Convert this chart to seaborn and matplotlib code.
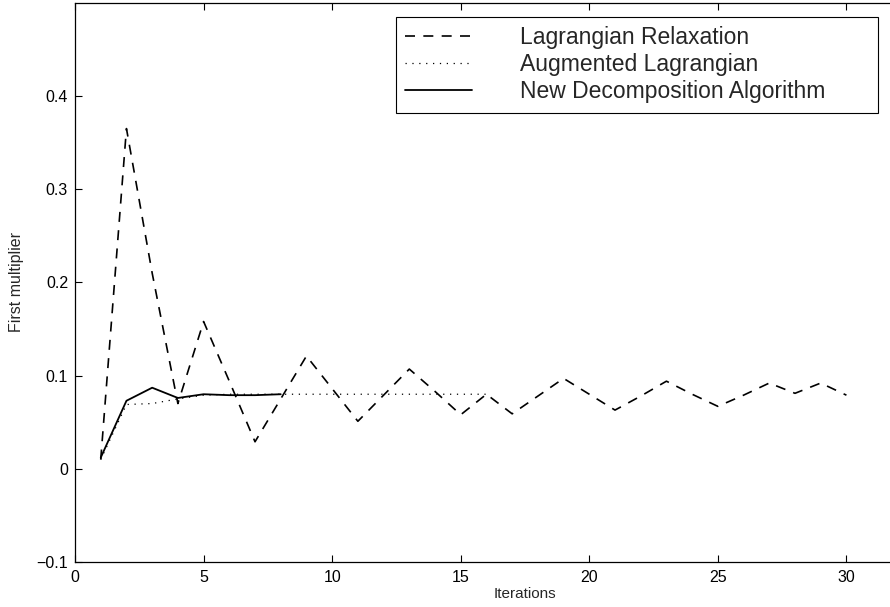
import matplotlib
matplotlib.use("Agg")
import matplotlib.pyplot as plt
import pandas as pd
import numpy as np
import seaborn as sns
from matplotlib.ticker import FuncFormatter

# values
iters_lr = list(range(1, 31))
lagrangian_relax = [0.010, 0.365, 0.210, 0.070, 0.158, 0.094, 0.029, 0.075, 0.121, 0.086,
                    0.051, 0.079, 0.107, 0.083, 0.058, 0.080, 0.059, 0.078, 0.097, 0.080,
                    0.063, 0.078, 0.094, 0.080, 0.067, 0.079, 0.092, 0.081, 0.092, 0.079]
iters_al = list(range(1, 17))
augmented = [0.010, 0.069, 0.070, 0.075, 0.079, 0.080, 0.080, 0.080, 0.080, 0.080,
             0.080, 0.080, 0.080, 0.080, 0.080, 0.080]
iters_nd = list(range(1, 9))
new_decomp = [0.012, 0.073, 0.087, 0.076, 0.080, 0.079, 0.079, 0.080]

labels = ["Lagrangian Relaxation", "Augmented Lagrangian", "New Decomposition Algorithm"]

sns.set_style("ticks", {"xtick.direction": "in", "ytick.direction": "in"})
plt.rcParams['font.family'] = ['Liberation Sans', 'DejaVu Sans']

fig = plt.figure(figsize=(8.9, 6.07), dpi=100)
# the right side of the original plot is cut off by the image edge
ax = fig.add_axes([0.0843, 0.0741, 1.0112, 0.9214])

df_lr = pd.DataFrame({"it": iters_lr, "val": lagrangian_relax})
df_al = pd.DataFrame({"it": iters_al, "val": augmented})
df_nd = pd.DataFrame({"it": iters_nd, "val": new_decomp})

sns.lineplot(data=df_lr, x="it", y="val", ax=ax, color="black", lw=1.2, label=labels[0])
ax.lines[-1].set_dashes((6, 5))
sns.lineplot(data=df_al, x="it", y="val", ax=ax, color="black", lw=0.9, label=labels[1])
ax.lines[-1].set_dashes((1, 4.5))
sns.lineplot(data=df_nd, x="it", y="val", ax=ax, color="black", lw=1.3, label=labels[2])

ax.set_xlim(0, 35)
ax.set_ylim(-0.1, 0.5)
ax.set_xticks(np.arange(0, 31, 5))
ax.set_yticks([-0.1, 0, 0.1, 0.2, 0.3, 0.4])
ax.yaxis.set_major_formatter(
    FuncFormatter(lambda v, p: ("%g" % round(v, 2)).replace("-", "\u2212")))
ax.tick_params(axis="both", which="both", direction="in", top=True, right=True,
               labelsize=11.5, length=5, width=0.8, colors="black")
ax.tick_params(axis="x", pad=6)
ax.tick_params(axis="y", pad=5)
for s in ax.spines.values():
    s.set_visible(True)
    s.set_color("black")
    s.set_linewidth(0.9)

ax.set_xlabel("Iterations", fontsize=11, labelpad=1)
ax.set_ylabel("First multiplier", fontsize=11.5, labelpad=9)

leg = ax.legend(loc="upper left", bbox_to_anchor=(0.3567, 0.81, 0.5356, 0.1644),
                mode="expand", borderaxespad=0, fontsize=16.5, frameon=True, fancybox=False,
                edgecolor="black", framealpha=1, handlelength=2.9,
                labelspacing=0.18, borderpad=0.4, handletextpad=2.1)
leg.get_frame().set_linewidth(0.8)

fig.savefig("out.png", dpi=100)
